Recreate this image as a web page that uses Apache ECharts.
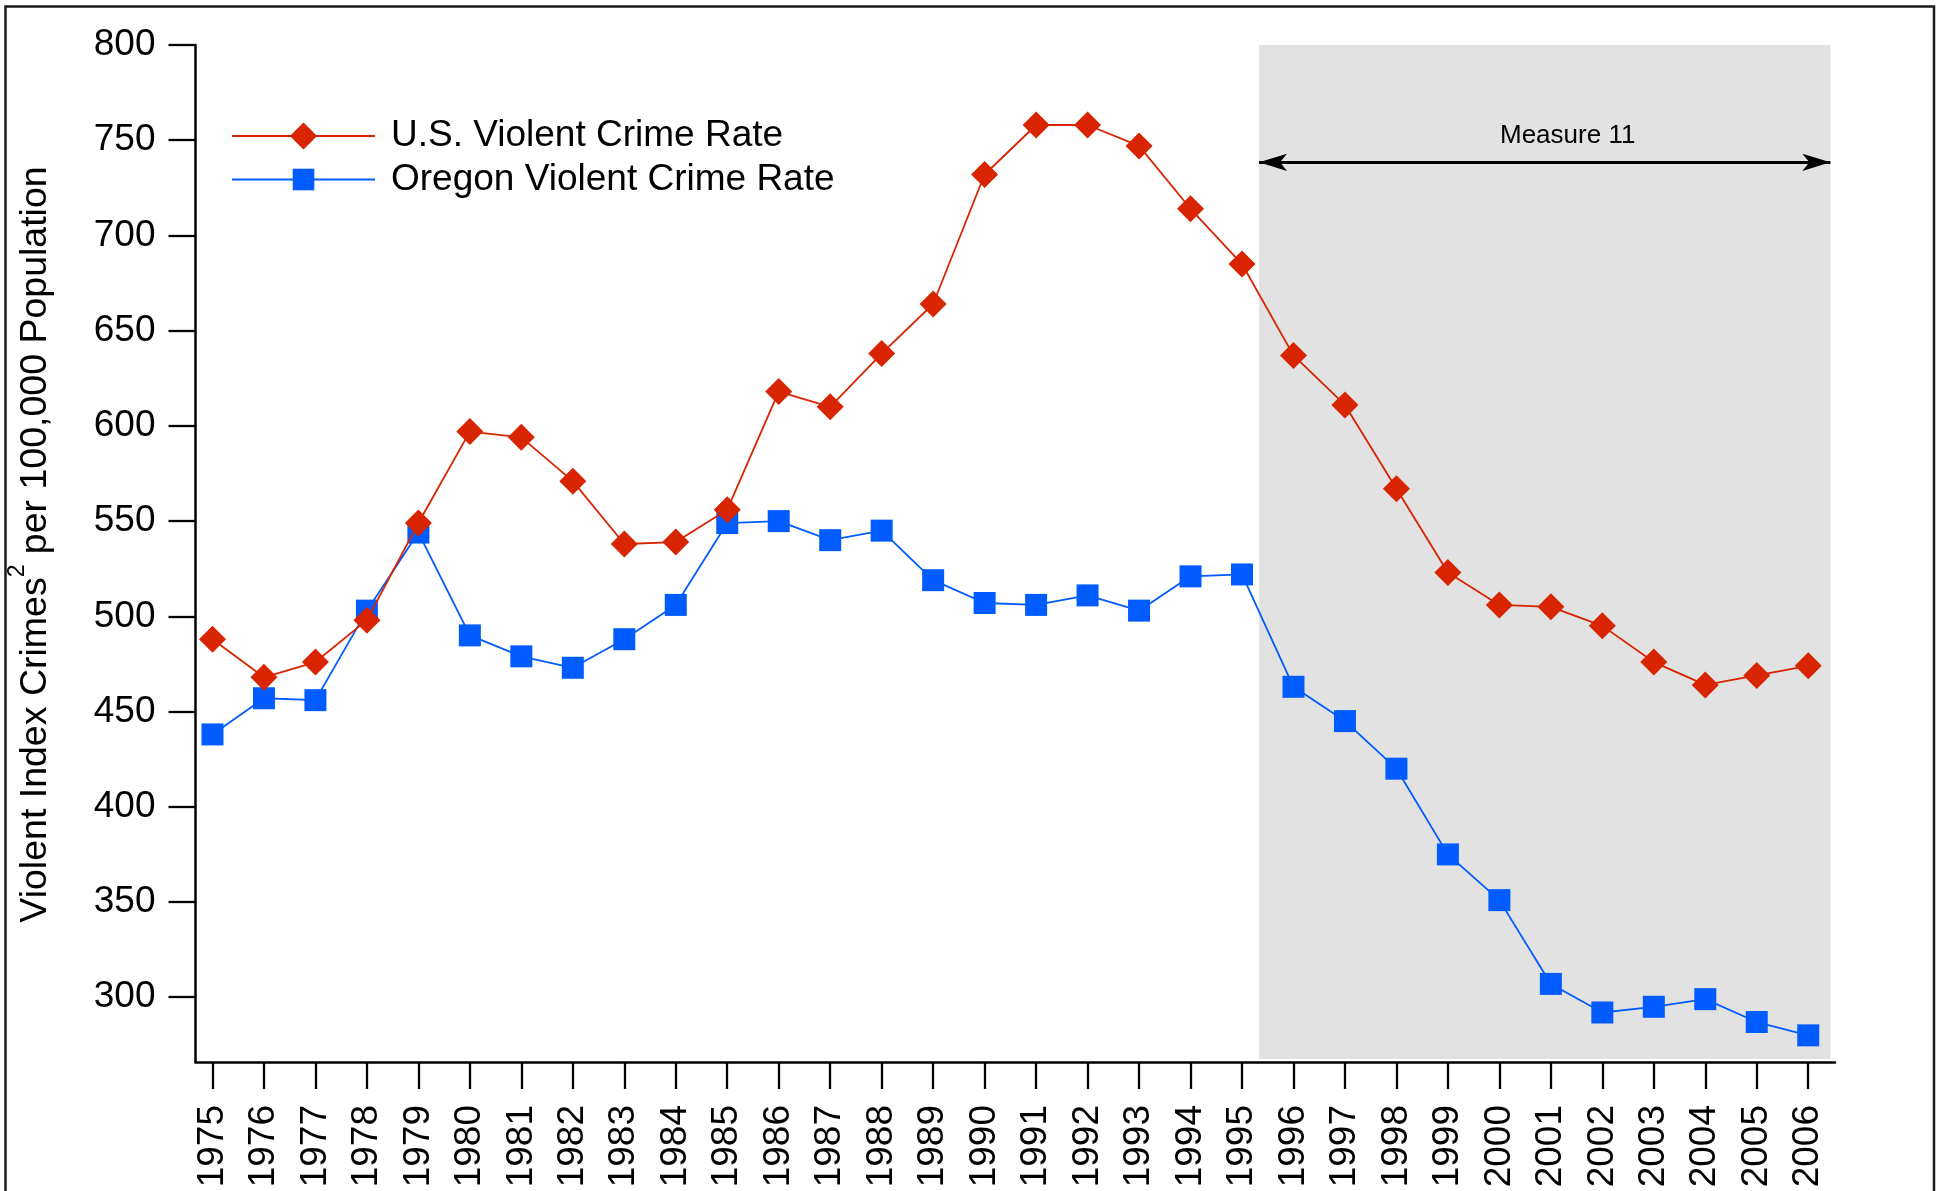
<!DOCTYPE html>
<html>
<head>
<meta charset="utf-8">
<script src="https://cdn.jsdelivr.net/npm/echarts@6/dist/echarts.min.js"></script>
<style>
  html, body { margin: 0; padding: 0; background: #ffffff; }
  #chart { width: 1942px; height: 1191px; }
</style>
</head>
<body>
<div id="chart"></div>
<script>
// Violent index crimes per 100,000 population, 1975–2006
const years = [1975, 1976, 1977, 1978, 1979, 1980, 1981, 1982, 1983, 1984, 1985, 1986,
               1987, 1988, 1989, 1990, 1991, 1992, 1993, 1994, 1995, 1996, 1997, 1998,
               1999, 2000, 2001, 2002, 2003, 2004, 2005, 2006];
const usRate = [488, 468, 476, 498, 549, 597, 594, 571, 538, 539, 556, 618,
                610, 638, 664, 732, 758, 758, 747, 714, 685, 637, 611, 567,
                523, 506, 505, 495, 476, 464, 469, 474];
const oregonRate = [438, 457, 456, 503, 544, 490, 479, 473, 488, 506, 549, 550,
                    540, 545, 519, 507, 506, 511, 503, 521, 522, 463, 445, 420,
                    375, 351, 307, 292, 295, 299, 287, 280];
const yTickValues = [300, 350, 400, 450, 500, 550, 600, 650, 700, 750, 800];

// Measure 11 period (shaded band and double arrow)
const measureLabel = 'Measure 11';
const measureStart = 1995.33;
const measureEnd = 2006.43;
const measureArrowLevel = 738.4;

const US_NAME = 'U.S. Violent Crime Rate';
const OR_NAME = 'Oregon Violent Crime Rate';
const FONT = '"Liberation Sans", Arial, Helvetica, sans-serif';
const RED = '#d82400';
const BLUE = '#005cff';

const chart = echarts.init(document.getElementById('chart'), null, { renderer: 'canvas' });

const X_MIN = 1974.67, X_MAX = 2006.52;
const Y_MIN = 266, Y_MAX = 800;

chart.setOption({
  backgroundColor: '#ffffff',
  animation: false,
  grid: {
    left: 195.5, right: 107, top: 45, bottom: 129,
    containLabel: false, outerBoundsMode: 'none'
  },
  legend: [
    {
      data: [US_NAME],
      left: 231, top: 117.5, padding: 0,
      itemWidth: 143, itemHeight: 34,
      textStyle: { fontFamily: FONT, fontSize: 37, color: '#000', padding: [0, 0, 0, 11] },
      selectedMode: false
    },
    {
      data: [OR_NAME],
      left: 231, top: 161, padding: 0,
      itemWidth: 143, itemHeight: 27,
      textStyle: { fontFamily: FONT, fontSize: 37, color: '#000', padding: [0, 0, 0, 11] },
      selectedMode: false
    }
  ],
  xAxis: {
    type: 'value',
    min: X_MIN,
    max: X_MAX,
    axisLine: { show: true, lineStyle: { color: '#000', width: 2.5 } },
    axisTick: {
      show: true, customValues: years, length: 27, inside: false,
      lineStyle: { color: '#000', width: 2.3 }
    },
    axisLabel: {
      show: true, customValues: years, rotate: 90, margin: 43,
      fontFamily: FONT, fontSize: 37, color: '#000',
      formatter: v => String(Math.round(v))
    },
    splitLine: { show: false }
  },
  yAxis: {
    type: 'value',
    min: Y_MIN,
    max: Y_MAX,
    name: 'Violent Index Crimes{sup|2} per 100,000 Population',
    nameLocation: 'middle',
    nameGap: 130,
    nameTextStyle: {
      fontFamily: FONT, fontSize: 37.5, color: '#000',
      padding: [0, 0, 0, 18],
      rich: {
        sup: { fontFamily: FONT, fontSize: 23, color: '#000', verticalAlign: 'top', padding: [0, 0, 36, 0] }
      }
    },
    axisLine: { show: true, lineStyle: { color: '#000', width: 2.5 } },
    axisTick: {
      show: true, customValues: yTickValues, length: 27, inside: false,
      lineStyle: { color: '#000', width: 2.3 }
    },
    axisLabel: {
      show: true, customValues: yTickValues, margin: 40,
      fontFamily: FONT, fontSize: 37, color: '#000'
    },
    splitLine: { show: false }
  },
  series: [
    {
      // shaded Measure 11 band with its double-headed arrow
      type: 'line',
      name: 'measure',
      data: [],
      z: 1,
      silent: true,
      markArea: {
        silent: true,
        itemStyle: { color: '#e2e2e2' },
        data: [[
          { xAxis: measureStart, yAxis: 267.6 },
          { xAxis: measureEnd, yAxis: Y_MAX }
        ]]
      },
      markLine: {
        silent: true,
        symbol: ['arrow', 'arrow'],
        symbolSize: [13, 28],
        lineStyle: { color: '#000', width: 3, type: 'solid' },
        label: { show: false },
        data: [[
          { coord: [measureStart, measureArrowLevel] },
          { coord: [measureEnd, measureArrowLevel] }
        ]]
      }
    },
    {
      type: 'line',
      name: US_NAME,
      data: years.map((y, i) => [y, usRate[i]]),
      z: 3,
      symbol: 'diamond',
      symbolSize: 27,
      lineStyle: { color: RED, width: 1.8 },
      itemStyle: { color: RED, borderWidth: 0 },
      showAllSymbol: true
    },
    {
      type: 'line',
      name: OR_NAME,
      data: years.map((y, i) => [y, oregonRate[i]]),
      z: 2,
      symbol: 'rect',
      symbolSize: 22,
      lineStyle: { color: BLUE, width: 1.8 },
      itemStyle: { color: BLUE, borderWidth: 0 },
      showAllSymbol: true
    }
  ],
  graphic: [
    {
      type: 'rect',
      shape: { x: 5.5, y: 6.5, width: 1928.5, height: 1260 },
      style: { fill: 'none', stroke: '#1a1a1a', lineWidth: 2.5 },
      silent: true,
      z: 100
    },
    {
      type: 'text',
      left: 1567 - 67, top: 134 - 11,
      style: { text: measureLabel, fontFamily: FONT, fontSize: 26, fill: '#000' },
      silent: true,
      z: 100
    }
  ]
});
</script>
</body>
</html>
